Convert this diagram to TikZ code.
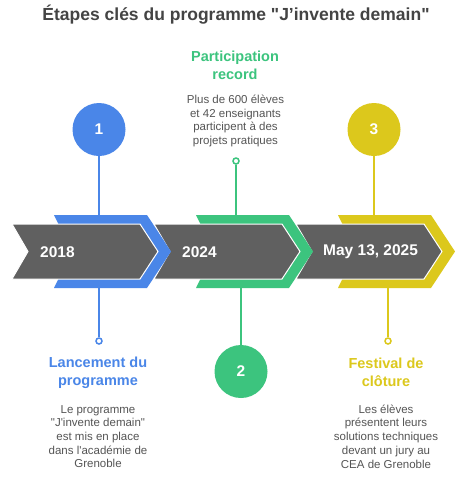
\documentclass[tikz,border=0pt]{standalone}
\usepackage{fontspec}
\setmainfont{Liberation Sans}
\newfontfamily\basefont{Liberation Sans}
\definecolor{cblue}{HTML}{4A86E8}
\definecolor{cgreen}{HTML}{3CC47E}
\definecolor{cyellow}{HTML}{DCC81C}
\definecolor{cgray}{HTML}{606060}
\definecolor{ctitle}{HTML}{444444}
\definecolor{cdesc}{HTML}{555555}
\tikzset{
  band/.style={line join=miter},
  grayband/.style={fill=cgray, draw=white, line width=1pt, line join=miter},
  numcirc/.style={circle, minimum size=53pt, inner sep=0pt, text=white, font=\basefont\fontsize{15.5}{18}\selectfont\bfseries},
  dotc/.style={circle, minimum size=6pt, inner sep=0pt, fill=white, draw=#1, line width=1.5pt},
  conn/.style={line width=2pt},
  yearlbl/.style={anchor=west, text=white, inner sep=0pt, font=\basefont\fontsize{15.5}{18}\selectfont\bfseries},
  ttl/.style={align=center, inner sep=0pt, font=\basefont\fontsize{14.5}{18}\selectfont\bfseries},
  desc/.style={align=center, inner sep=0pt, text=cdesc, font=\basefont\fontsize{11.5}{13.7}\selectfont},
}
\begin{document}
\begin{tikzpicture}[x=1pt,y=-1pt]
\useasboundingbox (0,0) rectangle (464,480);
\fill[white] (0,0) rectangle (464,480);
% title
\node[text=ctitle, font=\basefont\fontsize{17.5}{20}\selectfont\bfseries, inner sep=0pt] (title) at (236,15) {Étapes clés du programme "J’invente demain"};
% bands, drawn right to left
\fill[cyellow, band] (338,215) -- (431,215) -- (455,251.5) -- (431,288) -- (338,288) -- (356,251.5) -- cycle;
\draw[grayband] (296,224) -- (424,224) -- (442,251.5) -- (424,279) -- (296,279) -- (312,251.5) -- cycle;
\fill[cgreen, band] (196,215) -- (289,215) -- (313,251.5) -- (289,288) -- (196,288) -- (214,251.5) -- cycle;
\draw[grayband] (154,224) -- (282,224) -- (300,251.5) -- (282,279) -- (154,279) -- (170,251.5) -- cycle;
\fill[cblue, band] (54,215) -- (147,215) -- (171,251.5) -- (147,288) -- (54,288) -- (72,251.5) -- cycle;
\draw[grayband] (12,224) -- (140,224) -- (158,251.5) -- (140,279) -- (12,279) -- (28,251.5) -- cycle;
% year labels
\node[yearlbl] (y1) at (40,252) {2018};
\node[yearlbl] (y2) at (182,252) {2024};
\node[yearlbl] (y3) at (323,252) {May 13, 2025};
% band edge coordinates
\coordinate (b1t) at (99,215);
\coordinate (b1b) at (99,288);
\coordinate (b2t) at (236,215);
\coordinate (b2b) at (241,288);
\coordinate (b3t) at (374,215);
\coordinate (b3b) at (388,288);
% step 1
\node[numcirc, fill=cblue] (c1) at (99,129.5) {1};
\node[dotc=cblue] (d1) at (99,341) {};
\draw[conn, cblue] (c1.south) -- (b1t);
\draw[conn, cblue] (b1b) -- (d1.north);
\node[ttl, text=cblue] (t1) at (98,372.5) {Lancement du\\programme};
\node[desc] (e1) at (98,436.5) {Le programme\\"J'invente demain"\\est mis en place\\dans l'académie de\\Grenoble};
% step 2
\node[numcirc, fill=cgreen] (c2) at (241,371.5) {2};
\node[dotc=cgreen] (d2) at (236,161) {};
\draw[conn, cgreen] (d2.south) -- (b2t);
\draw[conn, cgreen] (b2b) -- (c2.north);
\node[ttl, text=cgreen] (t2) at (235,65.5) {Participation\\record};
\node[desc] (e2) at (235.5,121) {Plus de 600 élèves\\et 42 enseignants\\participent à des\\projets pratiques};
% step 3
\node[numcirc, fill=cyellow] (c3) at (374,129.5) {3};
\node[dotc=cyellow] (d3) at (388,341) {};
\draw[conn, cyellow] (c3.south) -- (b3t);
\draw[conn, cyellow] (b3b) -- (d3.north);
\node[ttl, text=cyellow] (t3) at (386,372.5) {Festival de\\clôture};
\node[desc] (e3) at (386,436.5) {Les élèves\\présentent leurs\\solutions techniques\\devant un jury au\\CEA de Grenoble};
\end{tikzpicture}
\end{document}
